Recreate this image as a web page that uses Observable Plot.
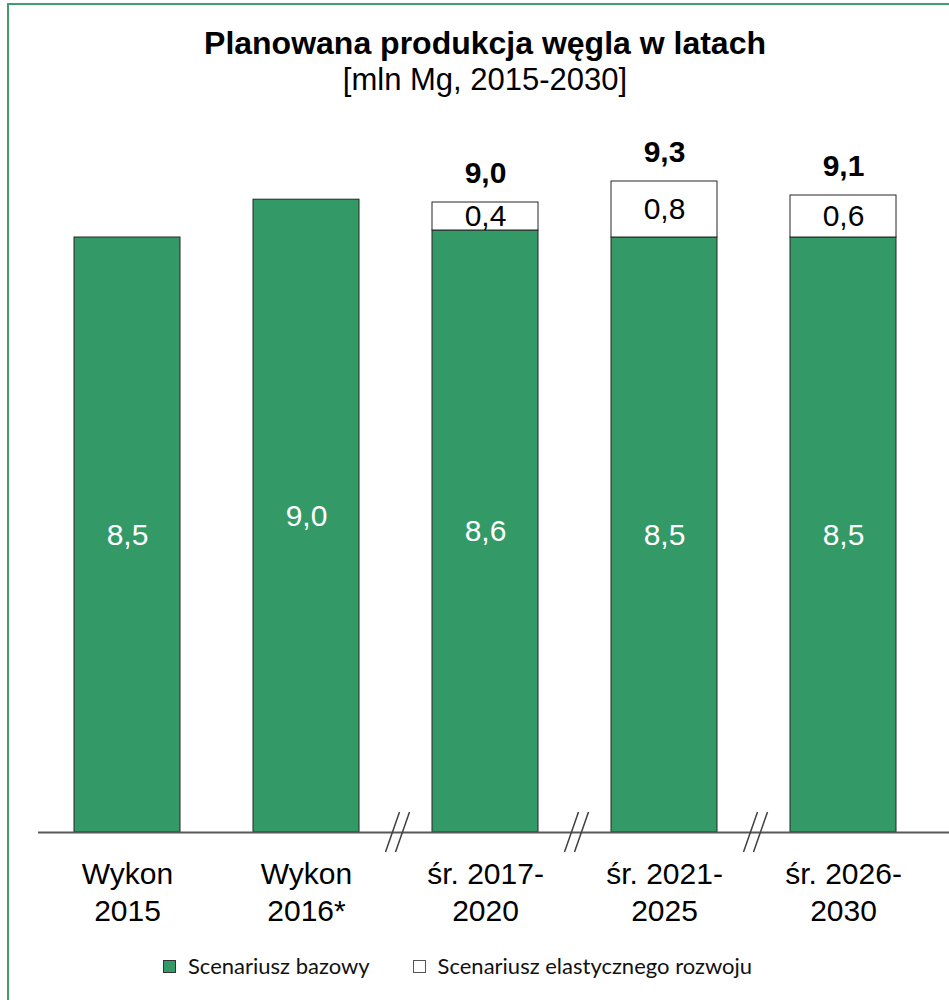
<!DOCTYPE html>
<html>
<head>
<meta charset="utf-8">
<script src="https://cdn.jsdelivr.net/npm/d3@7"></script>
<script src="https://cdn.jsdelivr.net/npm/@observablehq/plot@0.6"></script>
<style>
html, body { margin: 0; padding: 0; background: #ffffff; overflow: hidden; }
#frame { position: absolute; left: 7px; top: 3px; width: 1000px; height: 1100px; border: 2px solid #3f9f6f; box-sizing: border-box; pointer-events: none; }
#wrap { position: relative; width: 949px; font-family: "Liberation Sans", Arial, sans-serif; color: #000; }
#head { height: 110px; box-sizing: border-box; padding-top: 24px; padding-left: 21px; text-align: center; }
#head .t { font-weight: bold; font-size: 32px; line-height: 38px; }
#head .s { font-size: 31px; line-height: 36px; }
#chart svg { display: block; }
#legend { margin-top: 18px; height: 26px; display: flex; align-items: center; padding-left: 163px; font-family: Lato, "Open Sans", sans-serif; font-size: 22px; line-height: 26px; color: #111; }
#legend .sw { width: 13px; height: 13px; border: 1px solid #333; box-sizing: border-box; margin-right: 12px; }
#legend .gap { width: 43px; }
</style>
</head>
<body>
<div id="frame"></div>
<div id="wrap">
  <div id="head">
    <div class="t">Planowana produkcja węgla w latach</div>
    <div class="s">[mln Mg, 2015-2030]</div>
  </div>
  <div id="chart"></div>
  <div id="legend"></div>
</div>
<script>
// ---- data ----
const categories = ["Wykon 2015", "Wykon 2016*", "śr. 2017-2020", "śr. 2021-2025", "śr. 2026-2030"];
const tickLabels = ["Wykon\n2015", "Wykon\n2016*", "śr. 2017-\n2020", "śr. 2021-\n2025", "śr. 2026-\n2030"];
const seriesNames = ["Scenariusz bazowy", "Scenariusz elastycznego rozwoju"];
const seriesColors = ["#339966", "#ffffff"];
const baseValues = [8.5, 9.04, 8.6, 8.5, 8.5];
const elasticValues = [null, null, 0.4, 0.8, 0.6];
const breakBefore = ["śr. 2017-2020", "śr. 2021-2025", "śr. 2026-2030"];

// ---- tables ----
const rows = [];
categories.forEach((c, i) => {
  rows.push({cat: c, series: seriesNames[0], value: baseValues[i]});
  if (elasticValues[i] != null) rows.push({cat: c, series: seriesNames[1], value: elasticValues[i]});
});
const totals = categories
  .map((c, i) => ({cat: c, total: elasticValues[i] != null ? baseValues[i] + elasticValues[i] : null}))
  .filter(d => d.total != null);
const fmt = v => d3.format(".1f")(v).replace(".", ",");

function breakMarks(index, scales) {
  const x = scales.x, y = scales.y;
  const bw = x.bandwidth();
  const step = x.step ? x.step() : bw / (1 - 0.408);
  const y0 = y(0);
  const g = d3.create("svg:g").attr("stroke", "#404040").attr("stroke-width", 1.5).attr("fill", "none");
  for (const c of breakBefore) {
    const b = x(c) - (step - bw) / 2;
    for (const off of [-10, 0]) {
      g.append("line").attr("x1", b + off).attr("y1", y0 + 20).attr("x2", b + off + 14).attr("y2", y0 - 20);
    }
  }
  return g.node();
}

const plot = Plot.plot({
  width: 949,
  height: 825,
  marginTop: 22,
  marginBottom: 103,
  marginLeft: 38,
  marginRight: 0,
  style: {fontFamily: "'Liberation Sans', Arial, sans-serif", background: "transparent", overflow: "visible"},
  x: {domain: categories, range: [37.5, 932.5], paddingInner: 0.408, paddingOuter: 0.204, align: 0.5, axis: null},
  y: {domain: [0, 10], axis: null},
  color: {domain: seriesNames, range: seriesColors},
  marks: [
    Plot.barY(rows, {x: "cat", y: "value", fill: "series", stroke: "#262626", strokeWidth: 1}),
    Plot.ruleY([0], {stroke: "#595959", strokeWidth: 2}),
    breakMarks,
    Plot.text(rows, Plot.stackY({
      x: "cat", y: "value",
      text: d => d.series === seriesNames[0] ? fmt(d.value) : null,
      fill: "#ffffff", fontSize: 30, lineAnchor: "middle"
    })),
    Plot.text(rows, Plot.stackY({
      x: "cat", y: "value",
      text: d => d.series === seriesNames[1] ? fmt(d.value) : null,
      fill: "#000000", fontSize: 30, lineAnchor: "middle"
    })),
    Plot.text(totals, {x: "cat", y: "total", text: d => fmt(d.total), dy: -29, fontWeight: "bold", fontSize: 30, fill: "#000", lineAnchor: "middle"}),
    Plot.text(categories, {x: d => d, text: (d, i) => tickLabels[i], frameAnchor: "bottom", dy: 25, lineAnchor: "top", fontSize: 30, lineHeight: 1.23, fill: "#000"})
  ]
});
document.getElementById("chart").appendChild(plot);

// legend
const legend = document.getElementById("legend");
seriesNames.forEach((name, i) => {
  if (i > 0) { const g = document.createElement("div"); g.className = "gap"; legend.appendChild(g); }
  const sw = document.createElement("div");
  sw.className = "sw";
  sw.style.background = seriesColors[i];
  if (i === 1) sw.style.borderColor = "#555";
  legend.appendChild(sw);
  const t = document.createElement("span");
  t.textContent = name;
  legend.appendChild(t);
});
</script>
</body>
</html>
